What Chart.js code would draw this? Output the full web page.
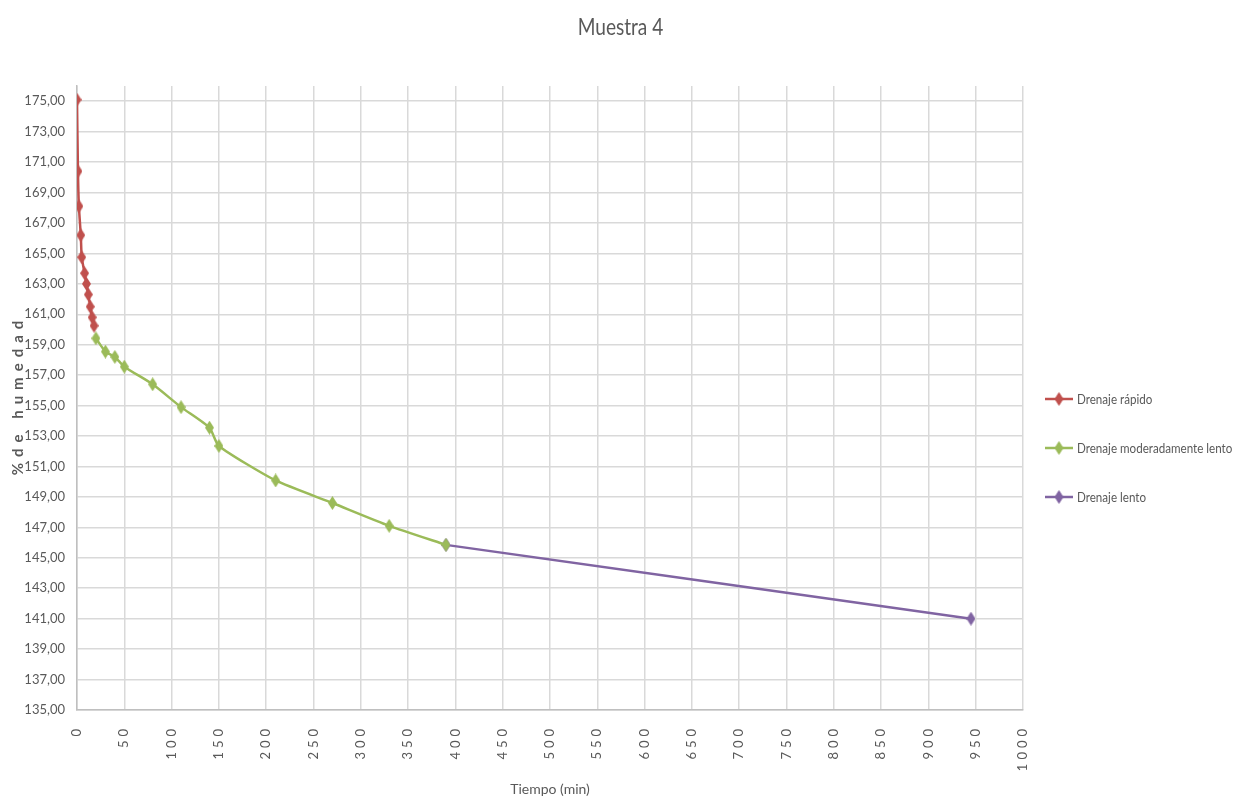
<!DOCTYPE html>
<html>
<head>
<meta charset="utf-8">
<script src="https://cdn.jsdelivr.net/npm/chart.js@4/dist/chart.umd.min.js"></script>
<style>
    html, body { margin: 0; padding: 0; background: #fff; }
    #wrap { width: 1251px; height: 804px; }
</style>
</head>
<body>
<div id="wrap"><canvas id="muestraChart"></canvas></div>
<script>
// ---------------- Datos ----------------

const rapidoTiempo = [0, 1, 2, 4, 5, 8, 10, 12, 14, 16, 18];
const rapidoHumedad = [175.10, 170.40, 168.10, 166.20, 164.75, 163.70, 163.00, 162.30, 161.50, 160.80, 160.25];

const moderadoTiempo = [20, 30, 40, 50, 80, 110, 140, 150, 210, 270, 330, 390];
const moderadoHumedad = [159.42, 158.55, 158.20, 157.56, 156.40, 154.90, 153.55, 152.35, 150.08, 148.60, 147.10, 145.85];

const lentoTiempo = [390, 945];
const lentoHumedad = [145.85, 141.00];

const yTicks = [135, 137, 139, 141, 143, 145, 147, 149, 151, 153, 155, 157, 159, 161, 163, 165, 167, 169, 171, 173, 175];

const TITULO = 'Muestra 4';
const TITULO_Y = '%de humedad';

const FONT = "Lato, 'Liberation Sans', sans-serif";
const GRAY = '#595959';
const NARROW = 0.83; // compresión horizontal del texto dibujado a mano

// ---------------- Marcadores ----------------

// Rombo alargado como marcador de punto
function diamond(color) {
    const c = document.createElement('canvas');
    c.width = 9; c.height = 14;
    const g = c.getContext('2d');
    g.fillStyle = color;
    g.beginPath();
    g.moveTo(4.5, 0);
    g.lineTo(9, 7);
    g.lineTo(4.5, 14);
    g.lineTo(0, 7);
    g.closePath();
    g.fill();
    return c;
}

function toPoints(xs, ys) {
    return xs.map((x, i) => ({ x, y: ys[i] }));
}

function makeSeries(label, xs, ys, color) {
    return {
        label,
        data: toPoints(xs, ys),
        borderColor: color,
        backgroundColor: color,
        borderWidth: 2.5,
        pointStyle: diamond(color),
        tension: 0.2
    };
}

function narrowText(ctx, text, x, y) {
    ctx.save();
    ctx.translate(x, y);
    ctx.scale(NARROW, 1);
    ctx.fillText(text, 0, 0);
    ctx.restore();
}

// ---------------- Título, leyenda y título del eje Y ----------------

const sideLabels = {
    id: 'sideLabels',
    afterLayout(chart) {
        // Etiquetas del eje X con letras espaciadas
        const xs = chart.scales.x;
        if (xs._spaced) return;
        const orig = xs.drawLabels.bind(xs);
        xs.drawLabels = function (area) {
            chart.ctx.save();
            chart.ctx.letterSpacing = '4px';
            orig(area);
            chart.ctx.restore();
        };
        xs._spaced = true;
    },
    afterDraw(chart) {
        const { ctx, chartArea } = chart;
        const midY = (chartArea.top + chartArea.bottom) / 2;

        // Título principal
        ctx.save();
        ctx.font = "23px " + FONT;
        ctx.fillStyle = GRAY;
        ctx.textAlign = 'center';
        ctx.textBaseline = 'middle';
        narrowText(ctx, TITULO, chart.width / 2 - 5, 28);
        ctx.restore();

        // Título vertical del eje Y, con letras espaciadas
        ctx.save();
        ctx.translate(18, midY);
        ctx.rotate(-Math.PI / 2);
        ctx.letterSpacing = '6px';
        ctx.font = "bold 15px " + FONT;
        ctx.fillStyle = GRAY;
        ctx.textAlign = 'center';
        ctx.textBaseline = 'middle';
        ctx.fillText(TITULO_Y, 3, 0);
        ctx.restore();

        // Leyenda: línea con rombo y nombre de la serie
        ctx.save();
        ctx.font = "14px " + FONT;
        ctx.textBaseline = 'middle';
        chart.data.datasets.forEach((ds, i) => {
            const x = chartArea.right + 22;
            const y = midY + 1 + i * 49;
            ctx.strokeStyle = ds.borderColor;
            ctx.lineWidth = 2.5;
            ctx.beginPath();
            ctx.moveTo(x, y);
            ctx.lineTo(x + 28, y);
            ctx.stroke();
            ctx.drawImage(ds.pointStyle, x + 14 - 4.5, y - 7);
            ctx.fillStyle = GRAY;
            narrowText(ctx, ds.label, x + 32, y);
        });
        ctx.restore();
    }
};

// ---------------- Gráfica ----------------

const ctx = document.getElementById('muestraChart');

new Chart(ctx, {
    type: 'line',
    data: {
        datasets: [
            makeSeries('Drenaje rápido', rapidoTiempo, rapidoHumedad, '#C0504D'),
            makeSeries('Drenaje moderadamente lento', moderadoTiempo, moderadoHumedad, '#9BBB59'),
            makeSeries('Drenaje lento', lentoTiempo, lentoHumedad, '#8064A2')
        ]
    },
    plugins: [sideLabels],
    options: {
        responsive: true,
        maintainAspectRatio: false,
        animation: false,
        layout: { padding: { left: 0, right: 228, top: 86, bottom: 4 } },
        plugins: {
            title: { display: false },
            legend: { display: false },
            tooltip: { enabled: false }
        },
        scales: {
            x: {
                type: 'linear',
                min: 0,
                max: 1000,
                ticks: {
                    stepSize: 50,
                    minRotation: 90,
                    maxRotation: 90,
                    color: GRAY,
                    font: { family: FONT, size: 13 },
                    padding: 15,
                    callback: v => String(v)
                },
                grid: { color: '#D9D9D9', lineWidth: 1.5, drawTicks: false },
                border: { color: '#BFBFBF', width: 1.5 },
                title: {
                    display: true,
                    text: 'Tiempo (min)',
                    color: GRAY,
                    font: { family: FONT, size: 14 },
                    padding: { top: 4, bottom: 2 }
                },
                afterFit(scale) { scale.height = 90; }
            },
            y: {
                min: 135,
                max: 176,
                afterBuildTicks(scale) {
                    scale.ticks = yTicks.map(v => ({ value: v }));
                },
                ticks: {
                    color: GRAY,
                    font: { family: FONT, size: 13 },
                    padding: 12,
                    callback: v => v.toFixed(2).replace('.', ',')
                },
                grid: { color: '#D9D9D9', lineWidth: 1.5, drawTicks: false },
                border: { color: '#BFBFBF', width: 1.5 },
                afterFit(scale) { scale.width = 77; }
            }
        }
    }
});
</script>
</body>
</html>
